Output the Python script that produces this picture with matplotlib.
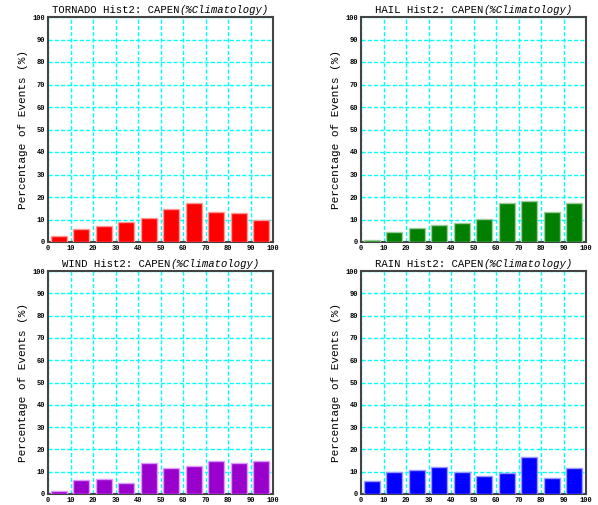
import matplotlib
matplotlib.use("Agg")
import matplotlib.pyplot as plt
import numpy as np

# Данные
bins = [0, 10, 20, 30, 40, 50, 60, 70, 80, 90]
tornado = [2.8, 5.9, 7.3, 8.8, 10.5, 14.7, 17.2, 13.5, 12.9, 9.8]
hail = [0.9, 4.6, 6.4, 7.4, 8.5, 10.2, 17.2, 18.1, 13.5, 17.2]
wind = [1.5, 6.3, 6.7, 4.8, 13.7, 11.8, 12.7, 14.9, 13.7, 14.9]
rain = [5.8, 10.0, 10.9, 12.2, 10.0, 8.0, 9.5, 16.4, 7.2, 11.8]

panels = [
    ("TORNADO", tornado, "#ff0000", "#ff9999", [48, 17, 273, 242]),
    ("HAIL", hail, "#007f00", "#99cc99", [361, 17, 586, 242]),
    ("WIND", wind, "#9900cc", "#dd99ff", [48, 271, 273, 494]),
    ("RAIN", rain, "#0000ff", "#9999ff", [361, 271, 586, 494]),
]

W, H = 598, 505
fig = plt.figure(figsize=(W / 100, H / 100), dpi=100)
mono = "Liberation Mono"

axes = []
for name, vals, color, edge, (x0, y0, x1, y1) in panels:
    ax = fig.add_axes([x0 / W, (H - y1) / H, (x1 - x0) / W, (y1 - y0) / H])
    centers = np.array(bins) + 4.8
    ax.bar(centers, vals, width=7, color=color, edgecolor=edge, linewidth=1, zorder=3)

    ax.set_xlim(0, 100)
    ax.set_ylim(0, 100)
    ax.set_xticks(range(0, 101, 10))
    ax.set_yticks(range(0, 101, 10))
    ax.tick_params(length=0, labelsize=5, pad=2)
    for lab in ax.get_xticklabels() + ax.get_yticklabels():
        lab.set_fontfamily(mono)
        lab.set_fontweight("bold")

    # сетка голубым пунктиром
    ax.grid(True, color="#00ffff", linestyle="--", linewidth=1, dashes=(3, 1.5), zorder=1)
    for s in ax.spines.values():
        s.set_color("#444444")
        s.set_linewidth(1.5)

    ax.set_ylabel("Percentage of Events (%)", fontfamily=mono, fontsize=8, labelpad=3)
    axes.append((ax, name))

# Заголовки: обычная часть + курсивная
fig.canvas.draw()
renderer = fig.canvas.get_renderer()
for ax, name in axes:
    t1 = ax.text(0, 1.0, name + " Hist2: CAPEN", transform=ax.transAxes,
                 fontfamily=mono, fontsize=7.7, va="bottom")
    t2 = ax.text(0, 1.0, "(%Climatology)", transform=ax.transAxes,
                 fontfamily=mono, fontsize=7.7, style="italic", va="bottom")
    w1 = t1.get_window_extent(renderer).width
    w2 = t2.get_window_extent(renderer).width
    bb = ax.get_window_extent(renderer)
    cx = (bb.x0 + bb.x1) / 2
    start = cx - (w1 + w2) / 2
    ty = bb.y1 + 2
    inv = ax.transAxes.inverted()
    t1.set_position(inv.transform((start, ty)))
    t2.set_position(inv.transform((start + w1, ty)))

fig.savefig("out.png", dpi=100)
